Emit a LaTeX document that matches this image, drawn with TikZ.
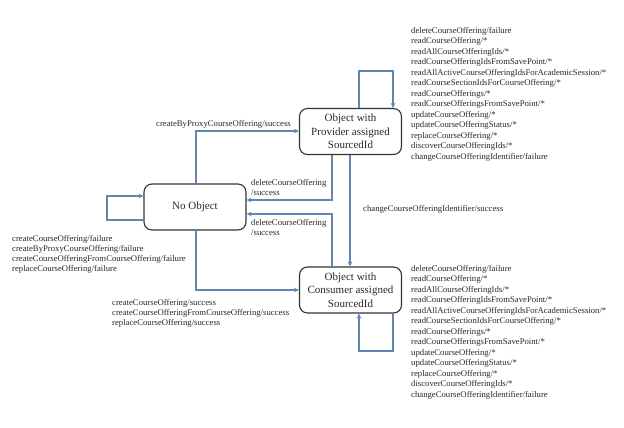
\documentclass[tikz,border=0pt]{standalone}
\usepackage{fontspec}
\setmainfont{Liberation Serif}
\usetikzlibrary{arrows.meta}
\definecolor{edgeblue}{RGB}{98,134,178}
\definecolor{txtgray}{RGB}{40,40,40}
\begin{document}
\begin{tikzpicture}[x=1pt,y=-1pt,
  state/.style={draw=black!80,line width=1.1pt,rounded corners=8pt,minimum width=102pt,minimum height=46pt,inner sep=0pt,align=center,font=\fontsize{11}{13.5}\selectfont,text=txtgray},
  trans/.style={draw=edgeblue,line width=1.2pt,-{Stealth[length=5pt,width=4.5pt]}},
  lbl/.style={inner sep=0pt,align=left,font=\fontsize{8.7}{10.5}\selectfont,text=txtgray},
  lblb/.style={lbl,font=\fontsize{8.7}{10}\selectfont}]
\useasboundingbox (0,0) rectangle (624,428);
\node[state] (prov) at (350.5,131.5) {Object with\\Provider assigned\\SourcedId};
\node[state] (none) at (195,207) {No Object};
\node[state] (cons) at (350.5,290) {Object with\\Consumer assigned\\SourcedId};
% coordinates for loops
\coordinate (pl1) at (359,71); \coordinate (pl2) at (393,71);
\coordinate (nl1) at (107,220); \coordinate (nl2) at (107,196);
\coordinate (cl1) at (393,351); \coordinate (cl2) at (359,351);
% transitions
\draw[trans] (none.north -| 196,0) |- (prov.west |- 0,131);
\draw[trans] (prov.north -| pl1) -- (pl1) -- (pl2) -- (prov.north -| pl2);
\draw[trans] (prov.south -| 332,0) |- (none.east |- 0,200);
\draw[trans] (cons.north -| 332,0) |- (none.east |- 0,214);
\draw[trans] (prov.south -| 350,0) -- (cons.north -| 350,0);
\draw[trans] (none.south -| 196,0) |- (cons.west |- 0,290);
\draw[trans] (none.west |- nl1) -- (nl1) -- (nl2) -- (none.west |- nl2);
\draw[trans] (cons.south -| cl1) -- (cl1) -- (cl2) -- (cons.south -| cl2);
% labels
\node[lbl,anchor=east] (lproxy) at (291,124) {createByProxyCourseOffering/success};
\node[lblb,anchor=north west] (ldel1) at (251,179) {deleteCourseOffering\\/success};
\node[lblb,anchor=north west] (ldel2) at (251,219) {deleteCourseOffering\\/success};
\node[lbl,anchor=west] (lchg) at (363,209) {changeCourseOfferingIdentifier/success};
\node[lblb,anchor=north west] (lfail) at (12,235) {createCourseOffering/failure\\createByProxyCourseOffering/failure\\createCourseOfferingFromCourseOffering/failure\\replaceCourseOffering/failure};
\node[lblb,anchor=north west] (lcreate) at (112,299) {createCourseOffering/success\\createCourseOfferingFromCourseOffering/success\\replaceCourseOffering/success};
\node[lbl,anchor=north west] (lprov) at (411,27) {deleteCourseOffering/failure\\readCourseOffering/*\\readAllCourseOfferingIds/*\\readCourseOfferingIdsFromSavePoint/*\\readAllActiveCourseOfferingIdsForAcademicSession/*\\readCourseSectionIdsForCourseOffering/*\\readCourseOfferings/*\\readCourseOfferingsFromSavePoint/*\\updateCourseOffering/*\\updateCourseOfferingStatus/*\\replaceCourseOffering/*\\discoverCourseOfferingIds/*\\changeCourseOfferingIdentifier/failure};
\node[lbl,anchor=north west] (lcons) at (411,265) {deleteCourseOffering/failure\\readCourseOffering/*\\readAllCourseOfferingIds/*\\readCourseOfferingIdsFromSavePoint/*\\readAllActiveCourseOfferingIdsForAcademicSession/*\\readCourseSectionIdsForCourseOffering/*\\readCourseOfferings/*\\readCourseOfferingsFromSavePoint/*\\updateCourseOffering/*\\updateCourseOfferingStatus/*\\replaceCourseOffering/*\\discoverCourseOfferingIds/*\\changeCourseOfferingIdentifier/failure};
\end{tikzpicture}
\end{document}
